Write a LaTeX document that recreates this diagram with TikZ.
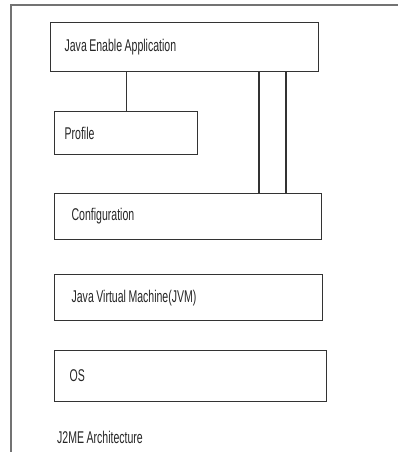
\documentclass[tikz,border=0pt]{standalone}
\usepackage{fontspec}
\setmainfont{Liberation Sans}[FakeStretch=0.62, WordSpace=0.85]
\usetikzlibrary{positioning}

\begin{document}
\begin{tikzpicture}
    [
        x=1pt, y=-1pt,
        layer/.style={rectangle, draw=black!80, line width=1.2pt, anchor=north west, align=left,
            font=\fontsize{17}{20}\selectfont, text=black!85,
            execute at begin node={\spaceskip=0pt\xspaceskip=0pt}},
        link/.style={draw=black!80, line width=1.2pt},
    ]
    \useasboundingbox (0,0) rectangle (398,452);
    \draw[black!55, line width=1.2pt] (11,452) -- (11,5) -- (398,5);
    \node (app) at (50,22) [layer, minimum height=49pt, inner xsep=14pt, text width=240pt] {Java Enable Application};
    \node (profile) at (54,111) [layer, minimum height=43pt, inner xsep=10pt, text width=123pt] {Profile};
    \node (config) at (54,193) [layer, minimum height=46pt, inner xsep=17pt, text width=233pt] {Configuration};
    \node (jvm) at (54,274) [layer, minimum height=46pt, inner xsep=17pt, text width=234pt] {Java Virtual Machine(JVM)};
    \node (os) at (54,350) [layer, minimum height=51pt, inner xsep=15pt, text width=242pt] {OS};
    \node (caption) at (57,437) [anchor=west, font=\fontsize{17}{20}\selectfont, text=black!85, inner sep=0pt] {J2ME Architecture};
    \draw[link] (app.south -| profile.north) -- (profile.north);
    \draw[link] ([xshift=209pt]app.south west) -- ([xshift=205pt]config.north west);
    \draw[link] ([xshift=236pt]app.south west) -- ([xshift=232pt]config.north west);
\end{tikzpicture}
\end{document}
